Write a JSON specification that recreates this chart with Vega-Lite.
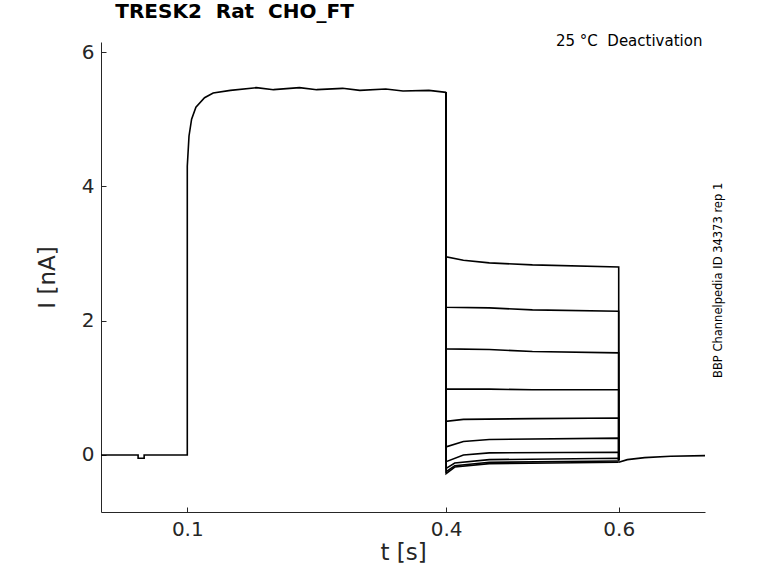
{
  "$schema": "https://vega.github.io/schema/vega-lite/v6.json",
  "width": 604,
  "height": 470,
  "autosize": {"type": "none"},
  "padding": {"left": 101, "top": 42, "right": 73, "bottom": 71},
  "background": "white",
  "title": {"text": "TRESK2\u00a0 Rat\u00a0 CHO_FT", "fontSize": 20, "fontWeight": "bold", "font": "DejaVu Sans", "anchor": "start", "offset": 12, "dx": 79, "color": "black"},
  "datasets": {
    "traces": [
      {"s": "A", "t": 0, "i": 0}, {"s": "A", "t": 0.043, "i": 0}, {"s": "A", "t": 0.043, "i": -0.05},
      {"s": "A", "t": 0.05, "i": -0.05}, {"s": "A", "t": 0.05, "i": 0}, {"s": "A", "t": 0.1, "i": 0},
      {"s": "A", "t": 0.1, "i": 4.3}, {"s": "A", "t": 0.102, "i": 4.75}, {"s": "A", "t": 0.105, "i": 5.0},
      {"s": "A", "t": 0.11, "i": 5.18}, {"s": "A", "t": 0.12, "i": 5.32}, {"s": "A", "t": 0.13, "i": 5.39},
      {"s": "A", "t": 0.15, "i": 5.43}, {"s": "A", "t": 0.18, "i": 5.47}, {"s": "A", "t": 0.2, "i": 5.44}, {"s": "A", "t": 0.23, "i": 5.47}, {"s": "A", "t": 0.25, "i": 5.44},
      {"s": "A", "t": 0.28, "i": 5.46}, {"s": "A", "t": 0.3, "i": 5.43}, {"s": "A", "t": 0.33, "i": 5.45}, {"s": "A", "t": 0.35, "i": 5.42}, {"s": "A", "t": 0.38, "i": 5.43}, {"s": "A", "t": 0.4, "i": 5.4},
      {"s": "k1", "t": 0.4, "i": 5.4}, {"s": "k1", "t": 0.4, "i": 2.95}, {"s": "k1", "t": 0.42, "i": 2.9}, {"s": "k1", "t": 0.45, "i": 2.86}, {"s": "k1", "t": 0.5, "i": 2.83}, {"s": "k1", "t": 0.6, "i": 2.8}, {"s": "k1", "t": 0.6, "i": -0.08},
      {"s": "k2", "t": 0.4, "i": 5.4}, {"s": "k2", "t": 0.4, "i": 2.2}, {"s": "k2", "t": 0.45, "i": 2.19}, {"s": "k2", "t": 0.5, "i": 2.16}, {"s": "k2", "t": 0.6, "i": 2.14}, {"s": "k2", "t": 0.6, "i": -0.08},
      {"s": "k3", "t": 0.4, "i": 5.4}, {"s": "k3", "t": 0.4, "i": 1.58}, {"s": "k3", "t": 0.45, "i": 1.57}, {"s": "k3", "t": 0.5, "i": 1.54}, {"s": "k3", "t": 0.6, "i": 1.52}, {"s": "k3", "t": 0.6, "i": -0.08},
      {"s": "k4", "t": 0.4, "i": 5.4}, {"s": "k4", "t": 0.4, "i": 0.98}, {"s": "k4", "t": 0.45, "i": 0.98}, {"s": "k4", "t": 0.5, "i": 0.97}, {"s": "k4", "t": 0.6, "i": 0.97}, {"s": "k4", "t": 0.6, "i": -0.08},
      {"s": "k5", "t": 0.4, "i": 5.4}, {"s": "k5", "t": 0.4, "i": 0.5}, {"s": "k5", "t": 0.42, "i": 0.53}, {"s": "k5", "t": 0.5, "i": 0.54}, {"s": "k5", "t": 0.6, "i": 0.55}, {"s": "k5", "t": 0.6, "i": -0.08},
      {"s": "k6", "t": 0.4, "i": 5.4}, {"s": "k6", "t": 0.4, "i": 0.12}, {"s": "k6", "t": 0.42, "i": 0.2}, {"s": "k6", "t": 0.45, "i": 0.23}, {"s": "k6", "t": 0.6, "i": 0.25}, {"s": "k6", "t": 0.6, "i": -0.08},
      {"s": "k7", "t": 0.4, "i": 5.4}, {"s": "k7", "t": 0.4, "i": -0.1}, {"s": "k7", "t": 0.42, "i": 0.0}, {"s": "k7", "t": 0.45, "i": 0.03}, {"s": "k7", "t": 0.6, "i": 0.04}, {"s": "k7", "t": 0.6, "i": -0.08},
      {"s": "k8", "t": 0.4, "i": 5.4}, {"s": "k8", "t": 0.4, "i": -0.2}, {"s": "k8", "t": 0.41, "i": -0.12}, {"s": "k8", "t": 0.45, "i": -0.07}, {"s": "k8", "t": 0.6, "i": -0.05}, {"s": "k8", "t": 0.6, "i": -0.08},
      {"s": "k9", "t": 0.4, "i": 5.4}, {"s": "k9", "t": 0.4, "i": -0.25}, {"s": "k9", "t": 0.41, "i": -0.16}, {"s": "k9", "t": 0.45, "i": -0.11}, {"s": "k9", "t": 0.6, "i": -0.09},
      {"s": "k10", "t": 0.4, "i": 5.4}, {"s": "k10", "t": 0.4, "i": -0.28}, {"s": "k10", "t": 0.41, "i": -0.18}, {"s": "k10", "t": 0.45, "i": -0.13}, {"s": "k10", "t": 0.6, "i": -0.11},
      {"s": "T", "t": 0.6, "i": -0.11}, {"s": "T", "t": 0.61, "i": -0.07}, {"s": "T", "t": 0.63, "i": -0.04}, {"s": "T", "t": 0.66, "i": -0.02}, {"s": "T", "t": 0.7, "i": -0.01}
    ],
    "notes": [
      {"t": 0.697, "i": 6.17, "label": "25 °C\u00a0 Deactivation", "a": 0},
      {"t": 0.716, "i": 2.6, "label": "BBP Channelpedia ID 34373 rep 1", "a": 270}
    ]
  },
  "layer": [
    {
      "data": {"name": "traces"},
      "mark": {"type": "line", "color": "black", "strokeWidth": 1.6},
      "encoding": {
        "x": {"field": "t", "type": "quantitative", "scale": {"domain": [0, 0.7], "nice": false},
          "axis": {"values": [0.1, 0.4, 0.6], "title": "t [s]", "format": ".1f"}},
        "y": {"field": "i", "type": "quantitative", "scale": {"domain": [-0.85, 6.15], "nice": false},
          "axis": {"values": [0, 2, 4, 6], "title": "I [nA]", "format": "d"}},
        "detail": {"field": "s"},
        "order": {"field": "t"}
      }
    },
    {
      "data": {"name": "notes"},
      "transform": [{"filter": "datum.a == 0"}],
      "mark": {"type": "text", "align": "right", "baseline": "middle", "fontSize": 15, "font": "DejaVu Sans", "color": "black", "clip": false},
      "encoding": {"x": {"field": "t", "type": "quantitative"}, "y": {"field": "i", "type": "quantitative"}, "text": {"field": "label"}}
    },
    {
      "data": {"name": "notes"},
      "transform": [{"filter": "datum.a == 270"}],
      "mark": {"type": "text", "align": "center", "baseline": "middle", "angle": 270, "fontSize": 11.5, "font": "DejaVu Sans", "color": "black", "clip": false},
      "encoding": {"x": {"field": "t", "type": "quantitative"}, "y": {"field": "i", "type": "quantitative"}, "text": {"field": "label"}}
    }
  ],
  "config": {
    "view": {"stroke": null},
    "axis": {"grid": false, "domainColor": "#262626", "tickColor": "#262626", "tickSize": -5, "labelFont": "DejaVu Sans", "titleFont": "DejaVu Sans", "labelFontSize": 20, "titleFontSize": 23, "titleFontWeight": "normal", "labelColor": "#262626", "titleColor": "#262626", "labelPadding": 12},
    "axisX": {"titlePadding": 2},
    "axisY": {"titlePadding": 22}
  }
}
